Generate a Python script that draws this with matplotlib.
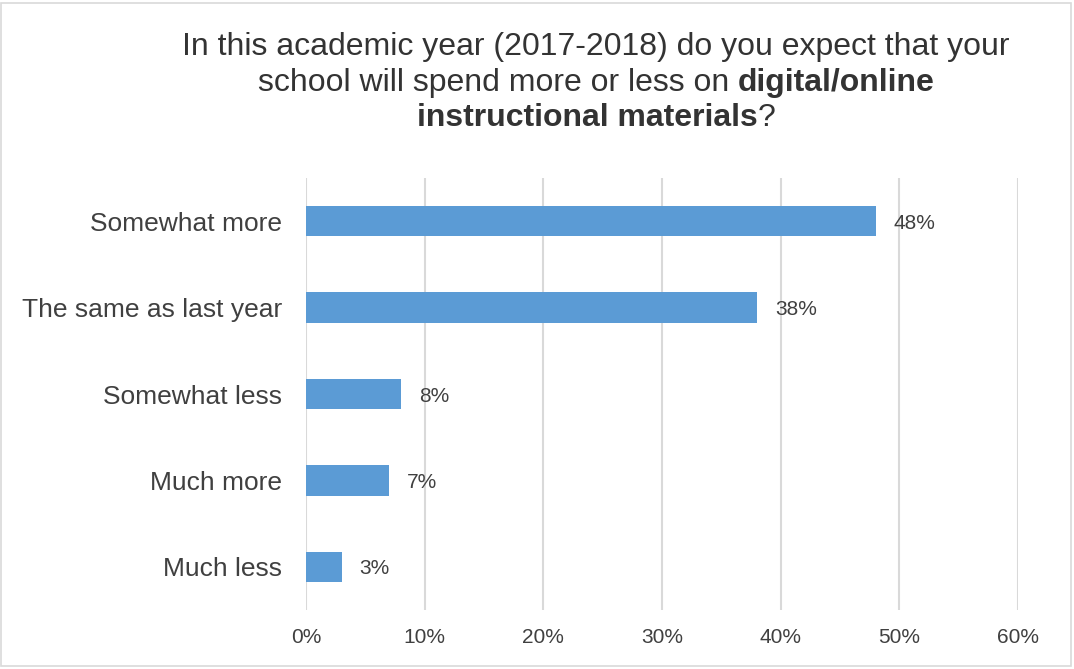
import matplotlib
matplotlib.use("Agg")
import matplotlib.pyplot as plt
from matplotlib.patches import Rectangle
from matplotlib.ticker import FuncFormatter

plt.rcParams['font.family'] = ['Liberation Sans', 'DejaVu Sans']

categories = ["Somewhat more", "The same as last year", "Somewhat less", "Much more", "Much less"]
values = [48, 38, 8, 7, 3]
x_ticks = [0, 10, 20, 30, 40, 50, 60]

W, H = 1074, 669
fig = plt.figure(figsize=(W / 100, H / 100), dpi=100)
ax = fig.add_axes([306 / W, 1 - 610 / H, (1018 - 306) / W, (610 - 178) / H])

ypos = list(range(len(categories)))
ax.barh(ypos, values, height=0.35, color="#5B9BD5", zorder=3)
ax.set_ylim(len(categories) - 0.5, -0.5)
ax.set_xlim(0, 60)
ax.set_yticks(ypos)
ax.set_yticklabels(categories, fontsize=19, color="#404040")
ax.set_xticks(x_ticks)
ax.xaxis.set_major_formatter(FuncFormatter(lambda v, _: f"{v:.0f}%"))
ax.tick_params(axis="x", labelsize=15, colors="#404040", length=0, pad=13)
ax.tick_params(axis="y", length=0, pad=17)
ax.grid(axis="x", color="#D9D9D9", linewidth=1.5, zorder=0)
for s in ax.spines.values():
    s.set_visible(False)

for y, v in zip(ypos, values):
    ax.annotate(f"{v}%", xy=(v, y), xytext=(13, 0), textcoords="offset points",
                ha="left", va="center_baseline", fontsize=15, color="#404040")

# outer frame
fig.patches.append(Rectangle((1 / W, 3 / H), (1071 - 1) / W, (666 - 3) / H,
                             transform=fig.transFigure, fill=False,
                             edgecolor="#D9D9D9", linewidth=1.2))

# title with mixed weights, each line centered
title_lines = [
    [("In this academic year (2017-2018) do you expect that your", "normal")],
    [("school will spend more or less on ", "normal"), ("digital/online", "bold")],
    [("instructional materials", "bold"), ("?", "normal")],
]
line_y = [44, 79, 114]
cx = 596
renderer = fig.canvas.get_renderer()
for segs, yc in zip(title_lines, line_y):
    texts = [fig.text(0, 1 - yc / H, s, fontsize=23, fontweight=w, color="#333333",
                      ha="left", va="center_baseline") for s, w in segs]
    widths = [t.get_window_extent(renderer).width for t in texts]
    x = cx - sum(widths) / 2
    for t, w in zip(texts, widths):
        t.set_x(x / W)
        x += w

fig.savefig("out.png", dpi=100)
